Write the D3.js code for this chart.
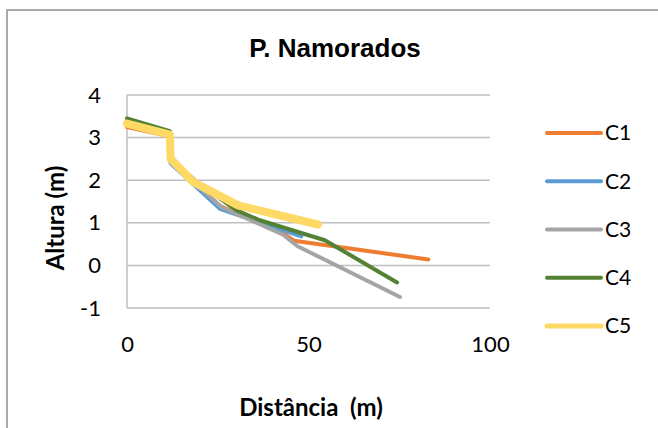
<!DOCTYPE html>
<html>
<head>
<meta charset="utf-8">
<script src="https://cdn.jsdelivr.net/npm/d3@7/dist/d3.min.js"></script>
<style>
  html, body { margin: 0; padding: 0; background: #fff; }
  svg { display: block; }
</style>
</head>
<body>
<svg id="chart" width="658" height="428"></svg>
<script>
// Profile series: distance (m) and height (m) for each survey line
const seriesNames = ["C1", "C2", "C3", "C4", "C5"];
const seriesColors = ["#ED7D31", "#5B9BD5", "#A5A5A5", "#548235", "#FFD966"];
const seriesWidths = [4, 4, 4, 4, 8];

const c1Dist = [0, 11.8, 12, 25.5, 43, 46, 83];
const c1Alt  = [3.25, 3.03, 2.45, 1.4, 0.75, 0.58, 0.14];

const c2Dist = [0, 11.8, 12, 25.6, 48];
const c2Alt  = [3.3, 3.05, 2.4, 1.33, 0.68];

const c3Dist = [0, 11.8, 12, 26, 43, 47, 75.2];
const c3Alt  = [3.3, 3.05, 2.45, 1.37, 0.72, 0.45, -0.74];

const c4Dist = [0, 11.8, 12, 19.6, 30.2, 36.6, 54.5, 74.4];
const c4Alt  = [3.45, 3.15, 2.5, 1.93, 1.29, 1.06, 0.59, -0.4];

const c5Dist = [0, 11.8, 12, 18.2, 30.6, 52.6];
const c5Alt  = [3.33, 3.07, 2.5, 1.96, 1.41, 0.96];

const xTicks = [0, 50, 100];
const yTicks = [-1, 0, 1, 2, 3, 4];

const title = "P. Namorados";
const xTitle = "Distância  (m)";
const yTitle = "Altura (m)";

const seriesData = [
  [c1Dist, c1Alt], [c2Dist, c2Alt], [c3Dist, c3Alt], [c4Dist, c4Alt], [c5Dist, c5Alt]
].map(([d, a], i) => ({
  name: seriesNames[i],
  color: seriesColors[i],
  width: seriesWidths[i],
  points: d.map((v, j) => ({ x: v, y: a[j] }))
}));

const svg = d3.select("#chart");
const textFont = "Lato, 'Open Sans', sans-serif";

// Chart area frame
svg.append("path")
  .attr("d", "M7,430 L7,10 L660,10")
  .attr("fill", "none")
  .attr("stroke", "#8f8f8f")
  .attr("stroke-width", 1.5);

const plot = { left: 127, right: 490, top: 95, bottom: 308 };

const x = d3.scaleLinear().domain([0, 100]).range([plot.left, plot.right]);
const y = d3.scaleLinear().domain([-1, 4]).range([plot.bottom, plot.top]);

// Horizontal gridlines
svg.append("g")
  .selectAll("line")
  .data(yTicks)
  .join("line")
  .attr("x1", plot.left)
  .attr("x2", plot.right)
  .attr("y1", d => y(d))
  .attr("y2", d => y(d))
  .attr("stroke", "#bfbfbf")
  .attr("stroke-width", 1.5);

// Vertical axis line
svg.append("line")
  .attr("x1", plot.left).attr("x2", plot.left)
  .attr("y1", plot.top).attr("y2", plot.bottom)
  .attr("stroke", "#bfbfbf")
  .attr("stroke-width", 1.5);

// Y axis tick labels
const yAxis = d3.axisLeft(y).tickValues(yTicks).tickSize(0).tickPadding(26)
  .tickFormat(d => String(d));
const gy = svg.append("g").attr("transform", `translate(${plot.left},0)`).call(yAxis);
gy.select(".domain").remove();
gy.selectAll("text")
  .attr("font-family", textFont)
  .attr("font-size", 22)
  .attr("fill", "#000");

// X axis tick labels
const xAxis = d3.axisBottom(x).tickValues(xTicks).tickSize(0).tickPadding(28)
  .tickFormat(d => String(d));
const gx = svg.append("g").attr("transform", `translate(0,${plot.bottom})`).call(xAxis);
gx.select(".domain").remove();
gx.selectAll("text")
  .attr("font-family", textFont)
  .attr("font-size", 22)
  .attr("fill", "#000");

// Series lines
const line = d3.line().x(d => x(d.x)).y(d => y(d.y));
svg.append("g")
  .selectAll("path")
  .data(seriesData)
  .join("path")
  .attr("d", d => line(d.points))
  .attr("fill", "none")
  .attr("stroke", d => d.color)
  .attr("stroke-width", d => d.width)
  .attr("stroke-linejoin", "round")
  .attr("stroke-linecap", "round");

// Title
svg.append("text")
  .attr("x", 335)
  .attr("y", 57)
  .attr("text-anchor", "middle")
  .attr("font-family", "'Liberation Sans', Arial, sans-serif")
  .attr("font-weight", "bold")
  .attr("font-size", 26)
  .attr("fill", "#000")
  .text(title);

// Axis titles
svg.append("text")
  .attr("transform", `translate(64,218) rotate(-90)`)
  .attr("text-anchor", "middle")
  .attr("font-family", textFont)
  .attr("font-weight", "bold")
  .attr("font-size", 24)
  .attr("fill", "#000")
  .text(yTitle);

svg.append("text")
  .attr("x", 311)
  .attr("y", 416)
  .attr("text-anchor", "middle")
  .attr("font-family", textFont)
  .attr("font-weight", "bold")
  .attr("font-size", 24)
  .attr("fill", "#000")
  .style("white-space", "pre")
  .text(xTitle);

// Legend
const legendY = d3.scalePoint().domain(seriesNames).range([133, 326]);
const legend = svg.append("g")
  .selectAll("g")
  .data(seriesData)
  .join("g")
  .attr("transform", d => `translate(0,${legendY(d.name)})`);
legend.append("line")
  .attr("x1", 547).attr("x2", 601)
  .attr("y1", 0).attr("y2", 0)
  .attr("stroke", d => d.color)
  .attr("stroke-width", d => d.width > 4 ? 5 : 4)
  .attr("stroke-linecap", "round");
legend.append("text")
  .attr("x", 605)
  .attr("y", 0)
  .attr("dy", "0.35em")
  .attr("font-family", textFont)
  .attr("font-size", 21)
  .attr("fill", "#000")
  .text(d => d.name);
</script>
</body>
</html>
